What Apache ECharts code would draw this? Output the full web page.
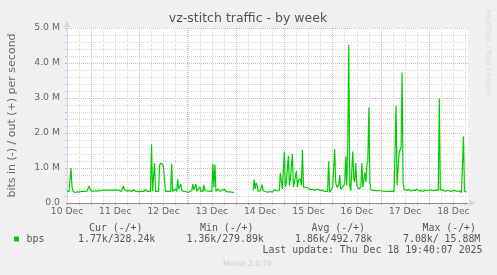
<!DOCTYPE html>
<html>
<head>
<meta charset="utf-8">
<script src="https://cdn.jsdelivr.net/npm/echarts@6/dist/echarts.min.js"></script>
<style>
html,body{margin:0;padding:0;background:#F0F0F0;}
#chart{width:497px;height:275px;}
</style>
</head>
<body>
<div id="chart"></div>
<script>
// ---- data (hours since 10 Dec 00:00, values in Mbit/s) ----
const dayLabels = ['10 Dec','11 Dec','12 Dec','13 Dec','14 Dec','15 Dec','16 Dec','17 Dec','18 Dec'];
const yTickLabels = ['0.0','1.0 M','2.0 M','3.0 M','4.0 M','5.0 M'];
const hours = [
0,1,1.5,2,2.5,3,4,5,6,7,7.5,8,9,10,11,11.5,12,13,14,15,16,17,18,21,24,26,26.5,27,27.5,28,28.5,29,30,31,32,33,34,35,36,37,38,39,40,41.5,
42,42.5,43,43.5,44,45.5,46,46.5,47,47.5,48,48.5,49,51.5,52,52.5,53,54,54.5,55,55.5,56,56.5,57,58,59,60,61,62,62.5,63,64,64.5,65,66,66.5,67.5,
68,68.5,69,72,72.5,73,73.5,74,75,76,77,78,79,80,81,82,83,83.5,
92.5,93,93.5,94,94.5,95,96,97,97.5,98,99,100,101,102,103,103.5,104,105.5,106,106.5,107,108,108.5,109,110,110.5,111,112,112.5,113,114,114.5,
115,116,116.5,117,117.5,118,119,120,121,122,123,124,125,126,127,128,129.5,130,130.5,131,132,133,133.5,134,135,135.5,136,137,138,138.5,139,139.5,
140,140.5,141,142,142.5,143,143.5,144,145,146,146.5,147,148,148.5,149,149.5,150,150.5,151,152,154,156,157,159,162.5,163,163.5,164,164.5,165,165.5,
166,166.5,167,167.5,168,169,170,171,172,173,174,175,176,177,178,179,180,181,182,183,184.5,185,185.5,186,187,188,189,190,191,192,193,194,195,196,196.5,
197,197.5,198,198.5
];
const bpsOut = [
.33,.33,.34,1.0,.45,.33,.30,.32,.31,.33,.37,.33,.33,.34,.49,.40,.34,.33,.35,.34,.36,.35,.37,.37,.37,.36,.33,.33,.38,.49,.38,.33,.34,.36,.33,.38,.34,.33,.32,.34,.33,.38,.33,.33,
1.67,.34,.34,1.14,.33,.33,1.07,1.14,1.15,1.10,1.0,.6,.33,.33,1.12,.33,.35,.40,.33,.68,.40,.45,.54,.35,.33,.33,.30,.33,.35,.54,.38,.54,.33,.33,.46,.33,.33,
.52,.35,.33,.33,1.12,.45,1.10,.33,.40,.34,.35,.40,.33,.32,.32,.31,.30,null,
.36,.67,.40,.57,.50,.33,.35,.52,.35,.33,.32,.31,.33,.31,.38,.33,.35,.35,.86,.86,.40,1.47,.45,.60,1.35,.50,.70,1.40,.45,.60,.92,.45,
.65,.69,.50,1.52,.45,.50,.45,.42,.38,.40,.36,.40,.38,.36,.36,.33,.33,1.19,.30,.35,.45,1.54,.60,.45,.50,.80,.40,.45,.55,1.33,.50,1.60,
4.52,.50,.35,1.47,.70,.60,1.14,.50,.40,.45,1.14,.45,.86,.60,1.10,1.20,2.73,.60,.38,.36,.35,.35,.34,.33,.33,1.43,2.78,.50,.45,1.43,1.40,
1.60,3.73,.60,.38,.33,.36,.39,.34,.37,.36,.39,.34,.36,.33,.37,.35,.36,.38,.35,.36,.36,2.98,.38,.35,.36,.34,.35,.35,.33,.36,.35,.33,.35,.30,.28,
1.90,.33,.32,.32
];
const legendHeaders = ['Cur (-/+)','Min (-/+)','Avg (-/+)','Max (-/+)'];
const legendValues = ['1.77k/328.24k','1.36k/279.89k','1.86k/492.78k','7.08k/ 15.88M'];
const seriesName = 'bps';
const titleText = 'vz-stitch traffic - by week';
const axisName = 'bits in (-) / out (+) per second';
const lastUpdate = 'Last update: Thu Dec 18 19:40:07 2025';

// ---- chart ----
const chart = echarts.init(document.getElementById('chart'), null, {renderer:'canvas'});
const SANS = '"DejaVu Sans"';
const MONO = '"DejaVu Sans Mono"';
const GREEN = '#00CC00';
const FONTC = '#666666';
const RED = '#EAB0B0';
const GREY = '#D8D8D8';

const lineData = hours.map((h, i) => [h, bpsOut[i] === null ? '-' : bpsOut[i]]);

function txt(x, y, text, font, fill, align, extra) {
  return Object.assign({
    type: 'text', x: x, y: y, silent: true,
    style: {text: text, font: font, fill: fill, textAlign: align, align: align,
            textVerticalAlign: 'middle', verticalAlign: 'middle'}
  }, extra || {});
}

const headX = [89, 200, 311.5, 422.5];
const valX = [78, 186.5, 295, 403];
const graphics = [
  txt(248, 19, titleText, '12.5px ' + SANS, '#555555', 'center'),
  txt(12, 115.5, axisName, '11px ' + SANS, FONTC, 'center', {rotation: Math.PI / 2}),
  txt(487.5, 53.5, 'RRDTOOL / TOBI OETIKER', '6.8px ' + SANS, '#D8D8D8', 'center', {rotation: -Math.PI / 2}),
  {type: 'rect', shape: {x: 14, y: 236.5, width: 5, height: 5}, style: {fill: GREEN}, silent: true},
  txt(26.5, 239, seriesName, '9.9px ' + MONO, '#555555', 'left'),
  txt(482.5, 250.7, lastUpdate, '9.9px ' + MONO, '#555555', 'right'),
  txt(223, 264.5, 'Munin 2.0.76', '7.5px ' + SANS, '#CCCCCC', 'left')
];
legendHeaders.forEach((t, i) => graphics.push(txt(headX[i], 228, t, '9.9px ' + MONO, '#555555', 'left')));
legendValues.forEach((t, i) => graphics.push(txt(valX[i], 239, t, '9.9px ' + MONO, '#555555', 'left')));

const option = {
  animation: false,
  backgroundColor: '#F0F0F0',
  grid: [
    {left: 67, right: 29, top: 28, bottom: 72, show: true, backgroundColor: '#FFFFFF', borderWidth: 0},
    // overlay grid starting at 10 Dec 12:00, used only for the noon (major) grid lines
    {left: 91, right: 29, top: 28, bottom: 72, show: false, z: 1}
  ],
  xAxis: [
    {
      type: 'value', gridIndex: 0, min: 0, max: 199.25, interval: 6,
      axisLine: {show: true, lineStyle: {color: '#CFD6F8', width: 1}, symbol: ['none', 'triangle'], symbolSize: [7, 6], symbolOffset: [0, 4]},
      axisTick: {show: true, length: 2, lineStyle: {color: '#B0B0B0'}},
      axisLabel: {
        color: FONTC, fontFamily: 'DejaVu Sans', fontSize: 9.2, margin: 4, showMaxLabel: false,
        formatter: v => (v % 24 === 0 && dayLabels[v / 24]) ? dayLabels[v / 24] : ''
      },
      splitLine: {show: true, showMinLine: false, showMaxLine: false, lineStyle: {color: GREY, type: [1, 1], width: 1}}
    },
    {
      type: 'value', gridIndex: 1, min: 12, max: 199.25, interval: 24, z: 1,
      axisLine: {show: false}, axisTick: {show: false}, axisLabel: {show: false},
      splitLine: {show: true, showMinLine: true, showMaxLine: false, lineStyle: {color: RED, type: [1, 1], width: 1}}
    }
  ],
  yAxis: [
    {
      type: 'value', gridIndex: 0, min: 0, max: 5, interval: 1,
      axisLine: {show: true, lineStyle: {color: '#CFD6F8', width: 1}, symbol: ['none', 'triangle'], symbolSize: [7, 6], symbolOffset: [0, 4]},
      axisTick: {show: true, length: 2, lineStyle: {color: '#E0A0A0'}},
      minorTick: {show: true, splitNumber: 5, length: 2, lineStyle: {color: '#C8C8C8'}},
      axisLabel: {color: FONTC, fontFamily: 'DejaVu Sans', fontSize: 9.3, margin: 7,
        formatter: v => yTickLabels[Math.round(v)] || ''},
      splitLine: {show: true, showMinLine: false, lineStyle: {color: RED, type: [1, 1], width: 1}},
      minorSplitLine: {show: true, lineStyle: {color: GREY, type: [1, 1], width: 1}}
    },
    {
      type: 'value', gridIndex: 1, min: 0, max: 5, show: false
    }
  ],
  series: [
    {
      type: 'line', data: [], xAxisIndex: 0, yAxisIndex: 0, z: 2, silent: true,
      markLine: {
        silent: true, symbol: 'none', label: {show: false}, animation: false,
        data: [{yAxis: 0, lineStyle: {color: '#8C8C9C', type: 'solid', width: 1}}]
      }
    },
    {
      name: seriesName, type: 'line', data: lineData, xAxisIndex: 0, yAxisIndex: 0, z: 3,
      showSymbol: false, connectNulls: false,
      lineStyle: {color: GREEN, width: 1.2}, itemStyle: {color: GREEN}
    }
  ],
  graphic: graphics
};
chart.setOption(option);
</script>
</body>
</html>
